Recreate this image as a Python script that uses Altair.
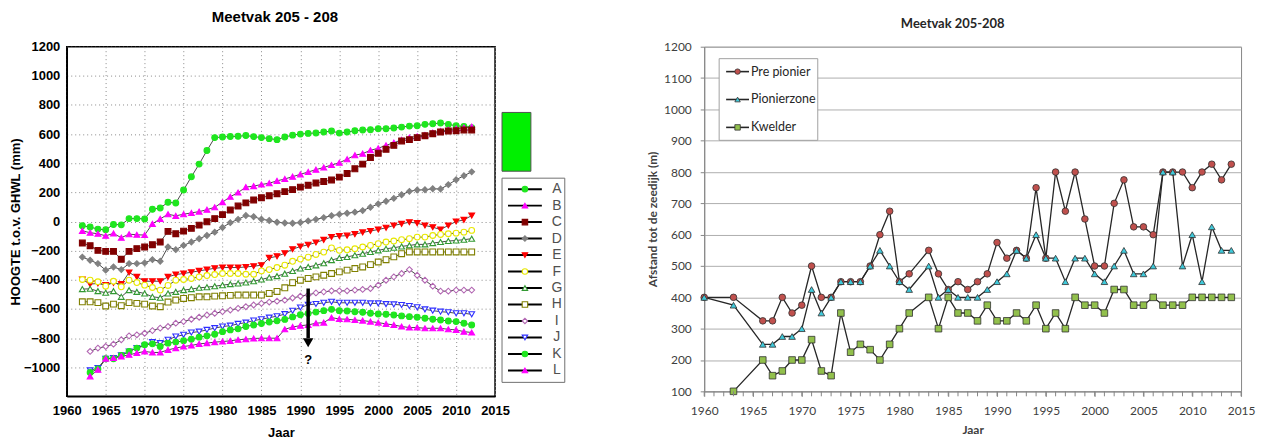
import altair as alt
import pandas as pd

# ---------------- Left panel data (Meetvak 205 - 208, heights in mm) ----------------
years_ah = list(range(1962, 2013))
years_il = list(range(1963, 2013))
raai = ["A", "B", "C", "D", "E", "F", "G", "H", "I", "J", "K", "L"]

A = [-29, -38, -52, -57, -20, -23, 20, 20, 18,
     84, 93, 132, 127, 216, 307, 394, 487, 576, 580,
     584, 585, 590, 583, 576, 569, 562, 580, 593, 600,
     605, 608, 614, 621, 607, 614, 623, 628, 630, 637,
     637, 642, 648, 655, 657, 667, 671, 676, 667, 657,
     653, 644]
B = [-64, -77, -84, -98, -82, -111, -87, -91, -93,
     -16, 18, 50, 39, 50, 59, 68, 81, 98, 133,
     170, 199, 236, 243, 254, 263, 279, 292, 308, 324,
     340, 356, 371, 388, 403, 428, 455, 466, 489, 503,
     523, 541, 560, 576, 585, 594, 610, 621, 630, 637,
     644, 651]
C = [-148, -166, -198, -205, -205, -259, -205, -186, -175,
     -159, -141, -68, -84, -66, -47, -25, -2, 20, 47,
     79, 106, 128, 148, 163, 177, 191, 205, 219, 236,
     249, 264, 275, 285, 305, 330, 362, 394, 439, 469,
     496, 523, 553, 562, 576, 589, 603, 614, 621, 623,
     628, 628]
D = [-244, -266, -289, -334, -312, -330, -289, -289, -284,
     -262, -273, -175, -193, -164, -141, -118, -96, -73, -41,
     -8, 15, 41, 33, 16, 7, -5, -10, -12, -7,
     4, 15, 27, 40, 49, 57, 64, 75, 98, 121,
     139, 159, 184, 207, 216, 218, 225, 223, 253, 287,
     314, 341]
E = [-398, -430, -425, -437, -421, -430, -350, -380, -410,
     -410, -410, -380, -364, -357, -348, -339, -330, -321, -316,
     -316, -316, -312, -307, -300, -250, -239, -218, -190, -172,
     -160, -144, -126, -106, -100, -97, -87, -75, -65, -55,
     -43, -27, -16, -5, -11, -27, -39, -55, -27, 0,
     11, 41]
F = [-398, -403, -414, -444, -410, -448, -403, -419, -437,
     -453, -471, -439, -403, -398, -391, -380, -371, -364, -357,
     -357, -357, -362, -362, -339, -330, -316, -300, -273, -258,
     -245, -226, -210, -181, -198, -194, -187, -175, -164, -152,
     -141, -134, -125, -118, -107, -107, -96, -89, -84, -80,
     -73, -61]
G = [-464, -462, -478, -489, -478, -517, -471, -483, -494,
     -517, -523, -494, -483, -471, -464, -455, -451, -444, -437,
     -430, -425, -419, -410, -398, -384, -375, -358, -340, -323,
     -312, -301, -286, -265, -250, -243, -232, -221, -209, -198,
     -187, -180, -171, -164, -157, -157, -148, -141, -134, -130,
     -125, -118]
H = [-551, -551, -557, -580, -567, -578, -557, -562, -567,
     -580, -585, -553, -539, -528, -523, -517, -517, -512, -510,
     -507, -505, -505, -505, -505, -494, -480, -455, -420, -403,
     -391, -380, -369, -357, -346, -334, -323, -312, -296, -278,
     -262, -243, -221, -209, -209, -209, -209, -209, -209, -209,
     -209, -209]
I = [-892, -869, -858, -842, -812, -785, -778, -767,
     -749, -732, -721, -698, -687, -671, -657, -642, -630, -619,
     -608, -596, -585, -573, -562, -553, -547, -540, -525, -513,
     -504, -490, -483, -476, -476, -476, -471, -466, -460, -437,
     -403, -380, -357, -330, -369, -403, -444, -478, -478, -471,
     -471, -471]
J = [-1022, -1006, -942, -937, -919, -892, -869, -853,
     -828, -835, -812, -790, -778, -762, -756, -744, -732, -721,
     -715, -703, -694, -680, -671, -660, -650, -636, -613, -590,
     -572, -566, -558, -551, -558, -558, -558, -558, -562, -562,
     -567, -569, -573, -580, -589, -603, -612, -619, -623, -630,
     -630, -637]
K = [-1036, -1013, -942, -942, -919, -892, -869, -846,
     -840, -858, -835, -828, -819, -808, -794, -785, -774, -756,
     -744, -737, -721, -710, -700, -690, -682, -672, -655, -640,
     -632, -622, -612, -603, -612, -614, -619, -623, -630, -635,
     -637, -642, -648, -653, -657, -664, -671, -676, -683, -687,
     -698, -710]
L = [-1063, -1017, -942, -937, -926, -915, -903, -892,
     -899, -899, -881, -869, -858, -851, -840, -835, -828, -824,
     -819, -812, -808, -803, -801, -801, -801, -740, -724, -715,
     -710, -698, -694, -660, -669, -671, -676, -680, -687, -694,
     -703, -710, -721, -728, -728, -733, -733, -733, -740, -744,
     -756, -762]

raai_shapes = ["circle", "triangle-up", "square", "diamond", "triangle-down", "circle",
               "triangle-up", "square", "diamond", "triangle-down", "circle", "triangle-up"]
raai_fill = ["#1EE61E", "#FF00FF", "#800000", "#808080", "#FF0000", "#FFFFFF",
             "#FFFFFF", "#FFFFFF", "#FFFFFF", "#FFFFFF", "#1EE61E", "#FF00FF"]
raai_stroke = ["#1EE61E", "#FF00FF", "#800000", "#808080", "#FF0000", "#E8E800",
               "#339933", "#808000", "#B266B2", "#2E2EFF", "#1EE61E", "#FF00FF"]

# annotation: arrow with question mark at 1991
arrow_x = [1991]
arrow_top = [-460]
arrow_bottom = [-800]
arrow_head = [-832]
qmark_y = [-950]

# ---------------- Right panel data (Meetvak 205-208, distance in m) ----------------
years_r = [1960, 1963, 1966, 1967, 1968, 1969, 1970, 1971, 1972, 1973, 1974, 1975, 1976,
           1977, 1978, 1979, 1980, 1981, 1983, 1984, 1985, 1986, 1987, 1988, 1989, 1990,
           1991, 1992, 1993, 1994, 1995, 1996, 1997, 1998, 1999, 2000, 2001, 2002, 2003,
           2004, 2005, 2006, 2007, 2008, 2009, 2010, 2011, 2012, 2013, 2014]
pre_pionier = [400, 400, 325, 325, 400, 350, 375, 500, 400, 400, 450, 450, 450,
               500, 600, 675, 450, 475, 550, 475, 425, 450, 425, 450, 475, 575,
               525, 550, 525, 750, 525, 800, 675, 800, 650, 500, 500, 700, 775,
               625, 625, 600, 800, 800, 800, 750, 800, 825, 775, 825]
pionierzone = [400, 375, 250, 250, 275, 275, 300, 425, 350, 400, 450, 450, 450,
               500, 550, 500, 450, 425, 500, 400, 425, 400, 400, 400, 425, 450,
               475, 550, 525, 600, 525, 525, 450, 525, 525, 475, 450, 500, 550,
               475, 475, 500, 800, 800, 500, 600, 450, 625, 550, 550]
kwelder = [None, 100, 200, 150, 165, 200, 200, 265, 165, 150, 350, 225, 250,
           233, 200, 250, 300, 350, 400, 300, 400, 350, 350, 325, 375, 325,
           325, 350, 325, 375, 300, 350, 300, 400, 375, 375, 350, 425, 425,
           375, 375, 400, 375, 375, 375, 400, 400, 400, 400, 400]
zones = ["Pre pionier", "Pionierzone", "Kwelder"]
zone_shapes = ["circle", "triangle-up", "square"]
zone_fill = ["#C0504D", "#3FC9DA", "#92C04C"]
tick_years = list(range(1960, 2016))

# ---------------- Build tables ----------------
rows = []
for name, vals in zip(raai, [A, B, C, D, E, F, G, H, I, J, K, L]):
    yrs = years_ah if len(vals) == len(years_ah) else years_il
    for yr, v in zip(yrs, vals):
        rows.append({"Jaar": yr, "Hoogte": v, "Raai": name})
left_df = pd.DataFrame(rows)
legend_left_df = pd.DataFrame({"Raai": raai})
arrow_df = pd.DataFrame({"Jaar": arrow_x, "top": arrow_top, "bottom": arrow_bottom,
                         "head": arrow_head, "q": qmark_y})

rrows = []
for name, vals in zip(zones, [pre_pionier, pionierzone, kwelder]):
    for yr, v in zip(years_r, vals):
        if v is not None:
            rrows.append({"Jaar": yr, "Afstand": v, "Zone": name})
right_df = pd.DataFrame(rrows)
legend_right_df = pd.DataFrame({"Zone": zones})
ticks_df = pd.DataFrame({"Jaar": tick_years})
one = pd.DataFrame({"k": [0]})

LF = "Liberation Sans"
RF = "Lato"

# ---------------- Left chart ----------------
xl = alt.X("Jaar:Q", title="Jaar",
           scale=alt.Scale(domain=[1960, 2015], nice=False, zero=False),
           axis=alt.Axis(values=list(range(1960, 2016, 5)), tickCount=200, format="d",
                         labelFont=LF, labelFontSize=13, labelFontWeight="bold",
                         labelColor="#000", titleFont=LF, titleFontSize=13,
                         titleFontWeight="bold", titleColor="#000", ticks=False,
                         labelPadding=8, titlePadding=9, grid=True, gridDash=[1, 3],
                         gridColor="#8A8A8A", domainColor="#000", domainWidth=1.5,
                         labelFlush=False, labelOverlap=False))
yl = alt.Y("Hoogte:Q", title="HOOGTE t.o.v. GHWL (mm)",
           scale=alt.Scale(domain=[-1200, 1200], nice=False),
           axis=alt.Axis(values=list(range(-1000, 1201, 200)), tickCount=200, format="d",
                         labelFont=LF, labelFontSize=13, labelFontWeight="bold",
                         labelColor="#000", titleFont=LF, titleFontSize=13,
                         titleFontWeight="bold", titleColor="#000", ticks=False,
                         labelPadding=7, titlePadding=1, grid=True, gridDash=[1, 3],
                         gridColor="#8A8A8A", domainColor="#000", domainWidth=1.5,
                         labelOverlap=False))

shape_l = alt.Shape("Raai:N", scale=alt.Scale(domain=raai, range=raai_shapes), legend=None)
fill_l = alt.Fill("Raai:N", scale=alt.Scale(domain=raai, range=raai_fill), legend=None)
stroke_l = alt.Stroke("Raai:N", scale=alt.Scale(domain=raai, range=raai_stroke), legend=None)

lines_l = alt.Chart(left_df).mark_line(color="#4A4A4A", strokeWidth=1).encode(
    x=xl, y=yl, detail="Raai:N")
points_l = alt.Chart(left_df).mark_point(size=34, opacity=1, fillOpacity=1, strokeWidth=1.1).encode(
    x="Jaar:Q", y="Hoogte:Q", shape=shape_l, fill=fill_l, stroke=stroke_l)
arrow_rule = alt.Chart(arrow_df).mark_rule(color="#000", strokeWidth=3.5).encode(
    x="Jaar:Q", y="top:Q", y2="bottom:Q")
arrow_tip = alt.Chart(arrow_df).mark_point(shape="triangle-down", size=110, filled=True,
                                           color="#000", opacity=1).encode(
    x="Jaar:Q", y="head:Q")
arrow_q = alt.Chart(arrow_df).mark_text(text="?", font=LF, fontSize=13, fontWeight="bold",
                                        color="#000").encode(x="Jaar:Q", y="q:Q")
plot_l = alt.layer(lines_l, points_l, arrow_rule, arrow_tip, arrow_q)

ly = alt.Y("Raai:N", scale=alt.Scale(type="point", domain=raai, range=[143, 325], padding=0),
           axis=None)
green_box = alt.Chart(one).mark_rect(fill="#00F000", stroke="#505050", strokeWidth=1).encode(
    x=alt.value(437), x2=alt.value(466), y=alt.value(66), y2=alt.value(125))
frame_l = alt.Chart(one).mark_rect(fill="#FFFFFF", stroke="#707070", strokeWidth=1).encode(
    x=alt.value(437), x2=alt.value(500), y=alt.value(132), y2=alt.value(337))
leg_rules_l = alt.Chart(legend_left_df).mark_rule(color="#000", strokeWidth=2).encode(
    x=alt.value(443), x2=alt.value(477), y=ly)
leg_pts_l = alt.Chart(legend_left_df).mark_point(size=30, opacity=1, fillOpacity=1,
                                                 strokeWidth=1.1).encode(
    x=alt.value(460), y=ly, shape=shape_l, fill=fill_l, stroke=stroke_l)
leg_txt_l = alt.Chart(legend_left_df).mark_text(font=LF, fontSize=14, color="#505050",
                                                align="center", baseline="middle").encode(
    x=alt.value(492), y=ly, text="Raai:N")
legend_l = alt.layer(green_box, frame_l, leg_rules_l, leg_pts_l, leg_txt_l)

left = alt.layer(plot_l, legend_l).resolve_scale(y="independent").properties(
    width=430, height=351,
    title=alt.TitleParams("Meetvak 205 - 208", font=LF, fontSize=15, fontWeight="bold",
                          color="#000", offset=16, dx=-6),
    view=alt.ViewBackground(stroke="#000", strokeWidth=1.5))

# ---------------- Right chart ----------------
xr = alt.X("Jaar:Q", title="Jaar",
           scale=alt.Scale(domain=[1960, 2015], nice=False, zero=False),
           axis=alt.Axis(values=list(range(1960, 2016, 5)), tickCount=200, format="d",
                         labelFont=RF, labelFontSize=12, labelColor="#404040",
                         titleFont=RF, titleFontSize=12, titleFontWeight="bold",
                         titleColor="#404040", tickSize=5, tickColor="#868686",
                         labelPadding=9, titlePadding=8, grid=False,
                         domainColor="#868686", labelFlush=False, labelOverlap=False))
yr = alt.Y("Afstand:Q", title="Afstand tot de zeedijk (m)",
           scale=alt.Scale(domain=[100, 1200], nice=False, zero=False),
           axis=alt.Axis(values=list(range(100, 1201, 100)), tickCount=200, format="d",
                         labelFont=RF, labelFontSize=12, labelColor="#404040", titleFont=RF,
                         titleFontSize=12, titleFontWeight="bold", titleColor="#404040",
                         tickSize=4, tickColor="#868686", labelPadding=9, titlePadding=4,
                         grid=True, gridColor="#ADADAD", domainColor="#868686",
                         labelOverlap=False))
shape_r = alt.Shape("Zone:N", scale=alt.Scale(domain=zones, range=zone_shapes), legend=None)
fill_r = alt.Fill("Zone:N", scale=alt.Scale(domain=zones, range=zone_fill), legend=None)

lines_r = alt.Chart(right_df).mark_line(color="#262626", strokeWidth=1.3).encode(
    x=xr, y=yr, detail="Zone:N")
points_r = alt.Chart(right_df).mark_point(size=44, opacity=1, fillOpacity=1, stroke="#303030",
                                          strokeWidth=0.8).encode(
    x="Jaar:Q", y="Afstand:Q", shape=shape_r, fill=fill_r)
minor_ticks = alt.Chart(ticks_df).mark_rule(color="#868686", strokeWidth=1).encode(
    x="Jaar:Q", y=alt.value(346), y2=alt.value(351))
plot_r = alt.layer(lines_r, points_r, minor_ticks)

ry = alt.Y("Zone:N", scale=alt.Scale(type="point", domain=zones, range=[25, 81], padding=0),
           axis=None)
frame_r = alt.Chart(one).mark_rect(fill="#FFFFFF", stroke="#A0A0A0", strokeWidth=1).encode(
    x=alt.value(15), x2=alt.value(114), y=alt.value(12), y2=alt.value(94))
leg_rules_r = alt.Chart(legend_right_df).mark_rule(color="#262626", strokeWidth=1.6).encode(
    x=alt.value(22), x2=alt.value(45), y=ry)
leg_pts_r = alt.Chart(legend_right_df).mark_point(size=30, opacity=1, fillOpacity=1,
                                                  stroke="#303030", strokeWidth=0.8).encode(
    x=alt.value(33.5), y=ry, shape=shape_r, fill=fill_r)
leg_txt_r = alt.Chart(legend_right_df).mark_text(font=RF, fontSize=12.5, color="#262626",
                                                 align="left", baseline="middle").encode(
    x=alt.value(47), y=ry, text="Zone:N")
legend_r = alt.layer(frame_r, leg_rules_r, leg_pts_r, leg_txt_r)

right = alt.layer(plot_r, legend_r).resolve_scale(y="independent").properties(
    width=539, height=346,
    title=alt.TitleParams("Meetvak 205-208", font=RF, fontSize=13, fontWeight="bold",
                          color="#262626", offset=10, dx=-20),
    view=alt.ViewBackground(stroke="#868686", strokeWidth=1))

chart = alt.hconcat(left, right, spacing=79).resolve_scale(
    fill="independent", shape="independent", stroke="independent"
).properties(
    padding={"left": 0, "top": 0, "right": 0, "bottom": 0},
    background="#FFFFFF"
).configure_axis(labelOverlap=False)

chart.save("out.html", embed_options={"renderer": "svg", "actions": False})
